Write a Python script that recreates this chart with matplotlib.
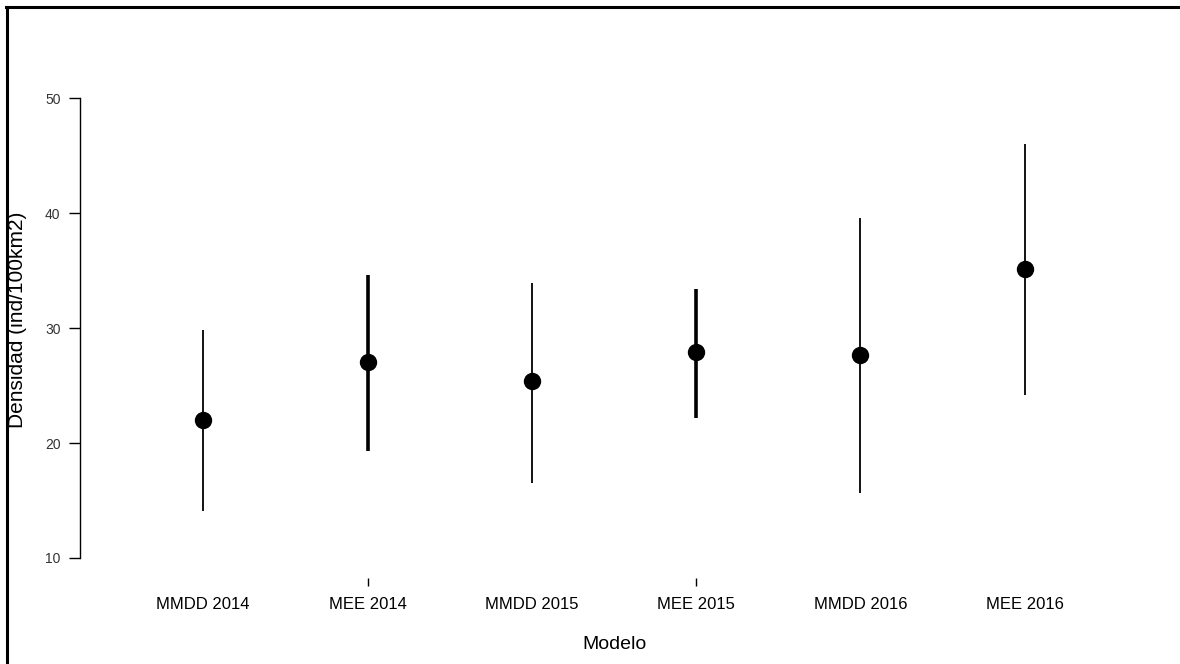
import matplotlib.pyplot as plt
from matplotlib.lines import Line2D

plt.rcParams['font.family'] = ['Liberation Sans', 'DejaVu Sans']

# estimaciones de densidad por modelo y año
modelos = ['MMDD 2014', 'MEE 2014', 'MMDD 2015', 'MEE 2015', 'MMDD 2016', 'MEE 2016']
densidad = [22.0, 27.05, 25.4, 27.9, 27.65, 35.1]
li = [14.1, 19.3, 16.5, 22.2, 15.65, 24.2]
ls = [29.85, 34.6, 33.9, 33.4, 39.6, 46.0]
grosor = [1.3, 2.6, 1.3, 2.6, 1.3, 1.3]

fig = plt.figure(figsize=(11.8, 6.64), dpi=100)
ax = fig.add_axes([80 / 1180, (664 - 578) / 664, (1148 - 80) / 1180, (578 - 80) / 664])

x = list(range(1, len(modelos) + 1))
for i in range(len(modelos)):
    ax.vlines(x[i], li[i], ls[i], color='black', lw=grosor[i])
ax.plot(x, densidad, 'o', color='black', ms=11.5)

ax.set_xlim(0.25, 6.75)
ax.set_ylim(8.26, 51.57)
for s in ['top', 'right', 'bottom']:
    ax.spines[s].set_visible(False)
ax.spines['left'].set_bounds(10, 50)
ax.spines['left'].set_linewidth(1)

ax.set_yticks([10, 20, 30, 40, 50])
ax.tick_params(axis='y', length=8, width=1, labelsize=10, labelcolor='#333333', pad=6)
ax.set_xticks(x)
ax.set_xticklabels(modelos, fontsize=12)
ax.tick_params(axis='x', length=0, pad=14)
# marcas cortas bajo los modelos MEE
ax.xaxis.remove_overlapping_locs = False
ax.set_xticks([2, 4], minor=True)
ax.tick_params(axis='x', which='minor', length=6, width=1)

ax.set_xlabel('Modelo', fontsize=14, labelpad=17)
ax.set_ylabel('Densidad (ind/100km2)', fontsize=15)
ax.yaxis.set_label_coords(-53 / 1068, (578 - 320) / 498)

# marco superior e izquierdo
fig.add_artist(Line2D([7 / 1180, 7 / 1180], [0, 1 - 7 / 664], color='black', lw=2.2))
fig.add_artist(Line2D([6 / 1180, 1], [1 - 7 / 664, 1 - 7 / 664], color='black', lw=2.2))

fig.savefig('out.png', dpi=100)
